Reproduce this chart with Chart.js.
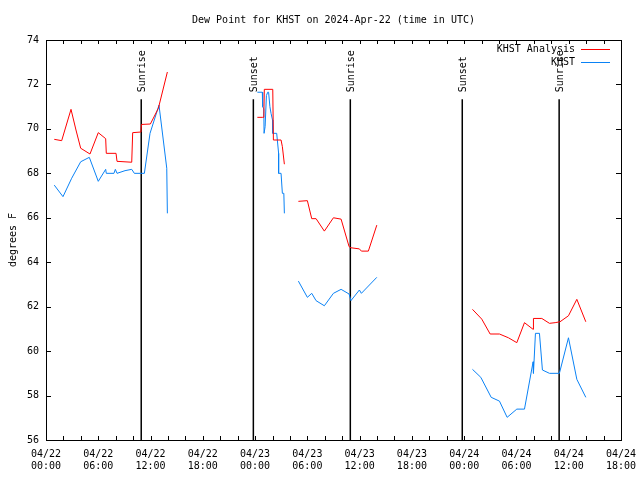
<!DOCTYPE html>
<html>
<head>
<meta charset="utf-8">
<script src="https://cdn.jsdelivr.net/npm/chart.js@4.4.0/dist/chart.umd.min.js"></script>
<style>
  html, body { margin: 0; padding: 0; background: #fff; }
  #chart { display: block; }
</style>
</head>
<body>
<canvas id="chart" width="640" height="480"></canvas>
<script>
// hours since 2024-04-22 00:00 UTC; null breaks the line
const analysisHours = [
  0.95, 1.8, 2.87, 3.44, 3.98, 5.05, 6.0, 6.85, 6.92, 8.04, 8.15, 9.84, 9.95, 10.9, 10.95, 11.98, 12.9, 13.93,
  19,
  24.26, 24.83, 25.0, 25.06, 26.03, 26.1, 26.98, 27.13, 27.36,
  28.2,
  28.97, 30.0, 30.5, 31.0, 31.95, 32.99, 33.87, 34.79, 35.0, 35.97, 36.2, 37.0, 37.97,
  43,
  48.95, 50.02, 50.98, 52.05, 53.08, 54.04, 54.92, 55.91, 55.95, 56.91, 57.79, 58.44, 59.0, 59.97, 60.93, 61.96
]
const analysisValues = [
  69.53, 69.47, 70.88, 69.95, 69.13, 68.87, 69.83, 69.56, 68.9, 68.9, 68.54, 68.5, 69.83, 69.86, 70.2, 70.22, 70.93, 72.56,
  null,
  70.52, 70.52, 70.52, 71.78, 71.78, 69.5, 69.5, 69.2, 68.41,
  null,
  66.74, 66.77, 65.96, 65.96, 65.4, 66.0, 65.94, 64.7, 64.65, 64.6, 64.5, 64.5, 65.67,
  null,
  61.88, 61.44, 60.77, 60.77, 60.6, 60.38, 61.28, 60.98, 61.47, 61.47, 61.25, 61.28, 61.32, 61.59, 62.33, 61.32
]

const obsHours = [
  0.95, 1.95, 2.95, 3.98, 4.97, 6.0, 6.85, 6.92, 7.8, 7.96, 8.15, 9.07, 9.84, 10.14, 11.29, 11.94, 12.97, 13.86, 13.93,
  19,
  24.26, 24.83, 24.87, 25.0, 25.03, 25.15, 25.3, 25.45, 25.55, 25.7, 25.83, 26.0, 26.03, 26.48, 26.7, 26.7, 26.98, 27.13, 27.3, 27.36,
  28.2,
  28.97, 30.0, 30.5, 31.0, 31.95, 32.99, 33.87, 34.79, 35.0, 35.97, 36.2, 37.97,
  43,
  48.95, 49.91, 51.1, 52.05, 52.93, 54.04, 54.92, 55.91, 55.95, 56.18, 56.64, 56.98, 57.79, 58.93, 59.97, 60.93, 61.96
]
const obsValues = [
  67.47, 66.95, 67.78, 68.52, 68.72, 67.64, 68.18, 68.0, 68.0, 68.18, 68.0, 68.12, 68.18, 68.0, 68.0, 69.8, 71.07, 68.23, 66.2,
  null,
  71.65, 71.65, 71.0, 70.9, 69.8, 70.1, 71.5, 71.65, 71.65, 71.0, 70.7, 70.4, 69.8, 69.8, 68.9, 68.0, 68.0, 67.1, 67.1, 66.2,
  null,
  63.15, 62.42, 62.6, 62.27, 62.04, 62.6, 62.78, 62.57, 62.27, 62.75, 62.6, 63.32,
  null,
  59.18, 58.82, 57.92, 57.75, 57.02, 57.39, 57.39, 59.52, 59.0, 60.8, 60.8, 59.15, 59.0, 59.0, 60.6, 58.73, 57.92
]

const sunHours = [10.93, 23.8, 34.93, 47.78, 58.9]
const sunLabels = ['Sunrise', 'Sunset', 'Sunrise', 'Sunset', 'Sunrise']
const sunLineTop = 71.33

const xTickDays = ['04/22', '04/22', '04/22', '04/22', '04/23', '04/23', '04/23', '04/23', '04/24', '04/24', '04/24', '04/24']
const xTickTimes = ['00:00', '06:00', '12:00', '18:00', '00:00', '06:00', '12:00', '18:00', '00:00', '06:00', '12:00', '18:00']

const FONT = 'DejaVu Sans Mono'
Chart.defaults.color = '#000'
Chart.defaults.font.family = FONT
Chart.defaults.font.size = 10

const toPoints = (hours, values) => hours.map((h, i) => ({ x: h, y: values[i] }))

const sunPoints = []
for (const h of sunHours) {
  sunPoints.push({ x: h, y: 56 }, { x: h, y: sunLineTop }, { x: h, y: null })
}

// gnuplot-like frame, inward ticks, sun labels and legend
const framePlugin = {
  id: 'frame',
  afterDatasetsDraw (chart) {
    const { ctx, chartArea: a, scales } = chart
    const xs = scales.x
    const ys = scales.y
    ctx.save()
    ctx.strokeStyle = '#000'
    ctx.lineWidth = 1
    ctx.beginPath()
    for (let h = 0; h <= 66; h += 2) {
      const px = Math.round(xs.getPixelForValue(h)) + 0.5
      ctx.moveTo(px, a.bottom); ctx.lineTo(px, a.bottom - 4)
      ctx.moveTo(px, a.top); ctx.lineTo(px, a.top + 4)
    }
    for (let v = 56; v <= 74; v += 2) {
      const py = Math.round(ys.getPixelForValue(v)) + 0.5
      ctx.moveTo(a.left, py); ctx.lineTo(a.left + 5, py)
      ctx.moveTo(a.right, py); ctx.lineTo(a.right - 5, py)
    }
    ctx.stroke()
    ctx.strokeRect(Math.round(a.left) + 0.5, Math.round(a.top) + 0.5,
      Math.round(a.right - a.left), Math.round(a.bottom - a.top))

    ctx.fillStyle = '#000'
    ctx.font = `10px "${FONT}"`
    sunHours.forEach((h, i) => {
      const px = xs.getPixelForValue(h)
      const py = ys.getPixelForValue(sunLineTop) - 7
      ctx.save()
      ctx.translate(px + 1, py)
      ctx.rotate(-Math.PI / 2)
      ctx.textAlign = 'left'
      ctx.textBaseline = 'middle'
      ctx.fillText(sunLabels[i], 0, 0)
      ctx.restore()
    })

    const items = chart.data.datasets.filter((d) => d.label)
    items.forEach((d, i) => {
      const y = a.top + 9 + i * 13
      ctx.textAlign = 'right'
      ctx.textBaseline = 'middle'
      ctx.fillText(d.label, a.right - 46, y)
      ctx.strokeStyle = d.borderColor
      ctx.beginPath()
      ctx.moveTo(a.right - 40, y + 0.5)
      ctx.lineTo(a.right - 11, y + 0.5)
      ctx.stroke()
    })
    ctx.restore()
  }
}

new Chart(document.getElementById('chart'), {
  type: 'line',
  data: {
    datasets: [
      {
        label: 'KHST Analysis',
        data: toPoints(analysisHours, analysisValues),
        borderColor: '#ff0000',
        borderWidth: 1,
        pointRadius: 0,
        tension: 0,
        spanGaps: false
      },
      {
        label: 'KHST',
        data: toPoints(obsHours, obsValues),
        borderColor: '#0a82f5',
        borderWidth: 1,
        pointRadius: 0,
        tension: 0,
        spanGaps: false
      },
      {
        label: '',
        data: sunPoints,
        borderColor: '#000',
        borderWidth: 1.5,
        pointRadius: 0,
        tension: 0,
        spanGaps: false
      }
    ]
  },
  options: {
    responsive: false,
    animation: false,
    devicePixelRatio: 1,
    layout: { padding: { left: 0, right: 19, top: 0, bottom: 0 } },
    plugins: {
      legend: { display: false },
      tooltip: { enabled: false },
      title: {
        display: true,
        text: 'Dew Point for KHST on 2024-Apr-22 (time in UTC)',
        fullSize: false,
        color: '#000',
        font: { family: FONT, size: 10, weight: 'normal' },
        padding: { top: 14, bottom: 14 }
      }
    },
    scales: {
      x: {
        type: 'linear',
        min: 0,
        max: 66,
        grid: { display: false, drawTicks: false },
        border: { display: false },
        afterFit: (scale) => {
          scale.height = 40
          scale.paddingLeft = 0
          scale.paddingRight = 0
        },
        ticks: {
          stepSize: 6,
          autoSkip: false,
          maxRotation: 0,
          padding: 8,
          callback: (v) => {
            const i = Math.round(v / 6)
            return [xTickDays[i], xTickTimes[i]]
          }
        }
      },
      y: {
        min: 56,
        max: 74,
        grid: { display: false, drawTicks: false },
        border: { display: false },
        afterFit: (scale) => {
          scale.width = 46
          scale.paddingTop = 0
          scale.paddingBottom = 0
        },
        title: {
          display: true,
          text: 'degrees F',
          padding: { top: 7, bottom: 0 },
          font: { family: FONT, size: 10 }
        },
        ticks: { stepSize: 2, padding: 7 }
      }
    }
  },
  plugins: [framePlugin]
})
</script>
</body>
</html>
